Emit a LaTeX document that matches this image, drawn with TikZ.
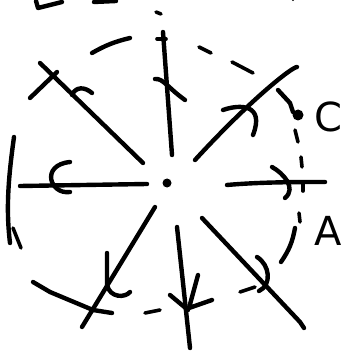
\documentclass[tikz,border=0pt]{standalone}
\usepackage{fontspec}
\setmainfont{DejaVu Sans}
\begin{document}
\begin{tikzpicture}[x=1pt,y=-1pt,
  ink/.style={line width=4.4pt,line cap=round,line join=round},
  thin ink/.style={line width=3.6pt,line cap=round,line join=round},
  lbl/.style={font=\fontsize{40}{40}\selectfont,inner sep=0pt}]
\useasboundingbox (0,0) rectangle (345,352);
% top fragments
\draw[ink] (36,1) -- (38,8) -- (62,2);
\draw[ink] (94,2) -- (116,1);
\fill (293,0) circle (1.2);
\draw[thin ink] (156,12) -- (161,14);
% dashed circle pieces
\draw[ink] (92,53) to[bend left=8] (130,38);
\draw[thin ink] (157,39) -- (166,39);
\draw[thin ink] (199,47) -- (211,53);
\draw[thin ink] (232,62) -- (253,73);
\draw[thin ink] (295,130) -- (298,142);
\draw[thin ink] (301,157) -- (302,167);
\draw[thin ink] (303,183) -- (303,191);
\draw[thin ink] (299,213) -- (300,222);
\draw[ink] (295,228) to[bend left=12] (281,262);
\draw[thin ink] (240,292) -- (255,287);
\draw[thin ink] (145,313) -- (160,310);
\draw[ink] (93,310) -- (112,313);
\draw[ink] (33,282) -- (50,292) -- (93,310);
\draw[ink] (14,137) .. controls (8,180) and (6,210) .. (10,243);
\draw[thin ink] (13,228) -- (21,248);
% center
\coordinate (o) at (167,183);
\fill (o) circle (4.5);
% rays
\draw[ink] (163,32) -- (172,155);
\draw[ink] (297,67) .. controls (292,67) and (250,100) .. (195,160);
\draw[ink] (40,63) -- (143,163);
\draw[ink] (20,186) -- (147,184);
\draw[ink] (227,185) .. controls (260,182) and (300,182) .. (325,182);
\draw[ink] (155,207) -- (82,327);
\draw[ink] (177,227) -- (190,348);
\draw[ink] (202,218) -- (300,322) -- (304,328);
% arrowheads / marks
\draw[ink] (155,79) .. controls (163,78) and (168,88) .. (185,100);
\draw[ink] (223,110) .. controls (240,104) and (265,104) .. (253,135);
\draw[ink] (30,98) -- (57,72);
\draw[ink] (72,95) .. controls (76,86) and (85,87) .. (92,93);
\draw[ink] (70,162) .. controls (40,165) and (50,195) .. (70,192);
\draw[ink] (272,167) .. controls (283,173) and (297,188) .. (285,198);
\draw[ink] (107,253) -- (107,285) .. controls (110,298) and (125,298) .. (130,292);
\draw[ink] (170,295) -- (188,310);
\draw[ink] (198,275) -- (189,308) -- (212,300);
\draw[ink] (257,257) .. controls (270,265) and (272,285) .. (259,291);
% point C
\draw[ink] (278,90) -- (290,103) -- (293,112);
\fill (298,115) circle (5.5);
\node[lbl,anchor=center] (C) at (328,117) {C};
\node[lbl,anchor=center] (A) at (328,231) {A};
\end{tikzpicture}
\end{document}
